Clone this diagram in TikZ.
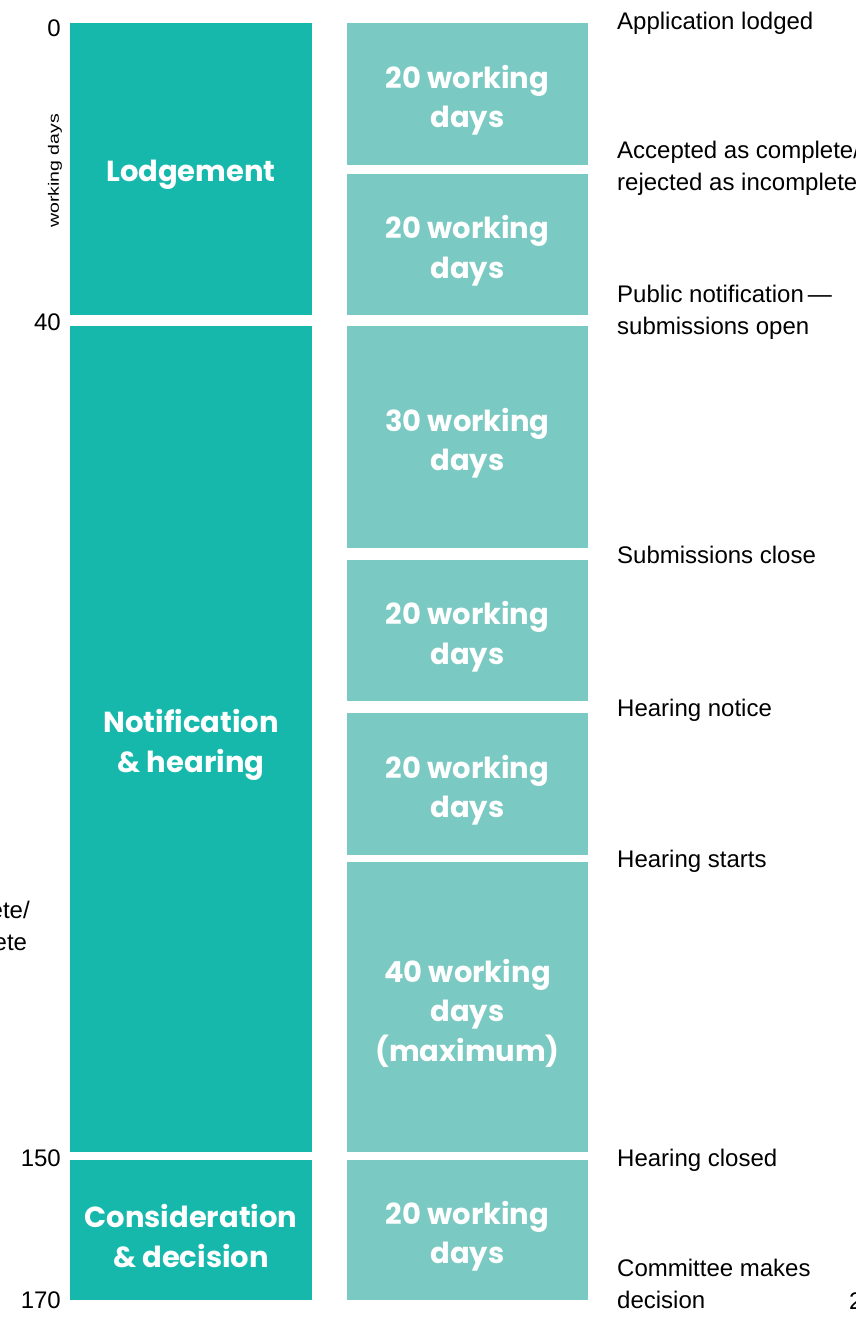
\documentclass[tikz,border=0pt]{standalone}
\usepackage{fontspec}
\setmainfont{Liberation Sans}
\newfontfamily\stagefont{Poppins}
\definecolor{stageteal}{HTML}{16B8AC}
\definecolor{periodteal}{HTML}{7AC9C2}

\begin{document}
\begin{tikzpicture}[x=1pt,y=-1pt,
    block/.style={inner sep=0pt},
    stage/.style={block, fill=stageteal, minimum width=242pt},
    period/.style={block, fill=periodteal, minimum width=241pt},
    blocktext/.style={inner sep=0pt, text=white, align=center, yshift=-6pt,
      font=\stagefont\bfseries\fontsize{29}{39.5}\selectfont},
    event/.style={anchor=west, inner sep=0pt, align=left,
      font=\fontsize{24}{32}\selectfont},
    daytick/.style={anchor=east, inner sep=0pt, font=\fontsize{24}{28}\selectfont}]
  \useasboundingbox (0,0) rectangle (855,1333);
  \clip (0,0) rectangle (855,1333);

  % day scale
  \node[daytick] (t0) at (61,28) {0};
  \node[daytick] (t40) at (61,322) {40};
  \node[daytick] (t150) at (61,1158) {150};
  \node[daytick] (t170) at (61,1300) {170};
  \node[rotate=90, inner sep=0pt, font=\fontsize{15}{17}\selectfont] (unit) at (55,171)
    {\scalebox{1.3}[1]{working days}};

  % stages
  \node[stage, minimum height=292] (lodge) at (191,169) {};
  \node[stage, minimum height=826] (notify) at (191,739) {};
  \node[stage, minimum height=140] (decide) at (191,1230) {};
  \node[blocktext] (lodge text) at (lodge) {Lodgement};
  \node[blocktext] (notify text) at (notify) {Notification\\\& hearing};
  \node[blocktext] (decide text) at (decide) {Consideration\\\& decision};

  % periods
  \foreach \ya/\yb/\txt [count=\i] in {23/165/{20 working\\days},
      174/315/{20 working\\days}, 326/548/{30 working\\days},
      560/701/{20 working\\days}, 713/855/{20 working\\days},
      862/1152/{40 working\\days\\(maximum)}, 1160/1300/{20 working\\days}}
  {
    \node[period, minimum height={\yb-\ya}] (p\i) at (467.5,{(\ya+\yb)/2}) {};
    \node[blocktext] (p\i text) at (p\i) {\txt};
  }

  % events
  \node[event] (e0) at (617,23) {Application lodged};
  \node[event] (e20) at (617,168) {Accepted as complete/\\rejected as incomplete};
  \node[event] (e40) at (617,312) {Public notification\,—\\submissions open};
  \node[event] (e70) at (617,555) {Submissions close};
  \node[event] (e90) at (617,710) {Hearing notice};
  \node[event] (e110) at (617,861) {Hearing starts};
  \node[event] (e150) at (617,1160) {Hearing closed};
  \node[event] (e170) at (617,1284) {Committee makes\\decision};

  % cut off neighbours
  \node[event, anchor=east] (cut) at (30,928) {Accepted as complete/\\rejected as incomplete};
  \node[event] (pg) at (849,1301) {2};
\end{tikzpicture}
\end{document}
